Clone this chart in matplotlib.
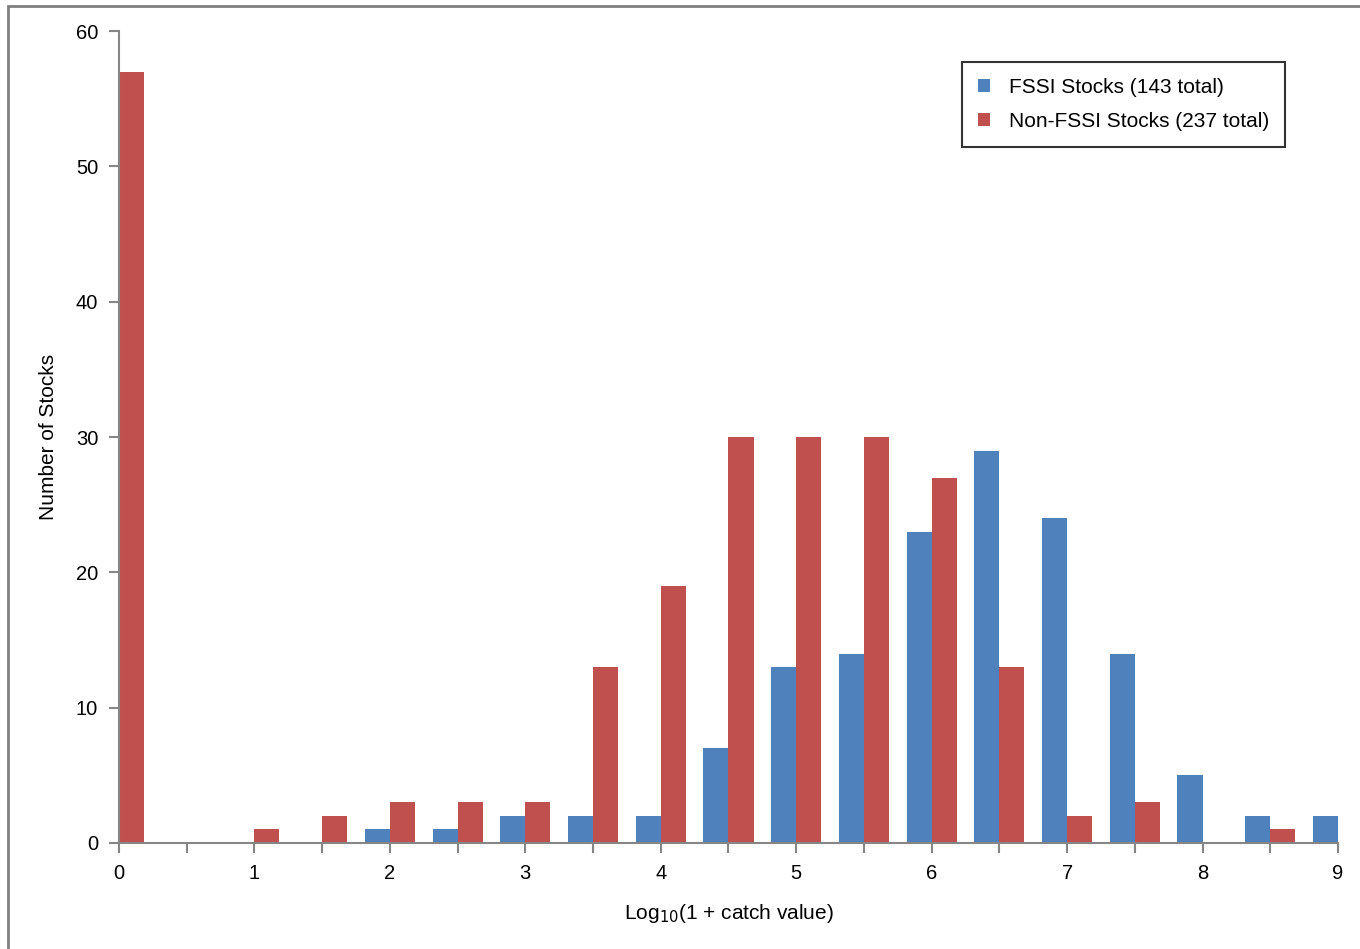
import numpy as np
import matplotlib
matplotlib.use("Agg")
import matplotlib.pyplot as plt
from matplotlib.patches import Rectangle

# bin positions (log10(1 + catch value)), every 0.5
bins = [0.0, 0.5, 1.0, 1.5, 2.0, 2.5, 3.0, 3.5, 4.0, 4.5,
        5.0, 5.5, 6.0, 6.5, 7.0, 7.5, 8.0, 8.5, 9.0]
fssi = [0, 0, 0, 0, 1, 1, 2, 2, 2, 7, 13, 14, 23, 29, 24, 14, 5, 2, 2]
non_fssi = [57, 0, 1, 2, 3, 3, 3, 13, 19, 30, 30, 30, 27, 13, 2, 3, 0, 1, 0]
xtick_labels = ["0", "1", "2", "3", "4", "5", "6", "7", "8", "9"]

plt.rcParams['font.family'] = ['Liberation Sans', 'DejaVu Sans']

def main():
    fig = plt.figure(figsize=(13.6, 9.49), dpi=100)
    ax = fig.add_axes([0.0875, 0.1117, 0.8963, 0.8556])

    x = np.array(bins)
    w = 0.185
    ax.bar(x - w / 2, fssi, width=w, color="#4F81BD", label="FSSI Stocks (143 total)")
    ax.bar(x + w / 2, non_fssi, width=w, color="#C0504D", label="Non-FSSI Stocks (237 total)")

    ax.set_xlim(0, 9)
    ax.set_ylim(0, 60)
    ax.set_yticks(range(0, 61, 10))
    ax.set_xticks(x)
    ax.set_xticklabels([xtick_labels[int(b)] if b == int(b) else "" for b in bins])

    for s in ["top", "right"]:
        ax.spines[s].set_visible(False)
    for s in ["left", "bottom"]:
        ax.spines[s].set_color("#868686")
        ax.spines[s].set_linewidth(1.5)
    ax.tick_params(axis="both", color="#868686", width=1.5, length=7, labelsize=14.5, pad=8)

    ax.set_ylabel("Number of Stocks", fontsize=15, labelpad=36)
    ax.yaxis.set_label_coords(-0.05, 0.5)
    ax.set_xlabel("Log$_{10}$(1 + catch value)", fontsize=15, labelpad=14)

    leg = ax.legend(loc="upper right", bbox_to_anchor=(0.9565, 0.962), fontsize=15,
                    frameon=True, fancybox=False, handlelength=0.6, handleheight=0.6,
                    handletextpad=0.9, borderpad=0.75, labelspacing=0.75,
                    borderaxespad=0)
    leg.get_frame().set_edgecolor("black")
    leg.get_frame().set_linewidth(1.5)

    # outer border of the original figure (top and left edges visible)
    fig.add_artist(Rectangle((0.006, -0.1), 1.2, 1.094, transform=fig.transFigure,
                             fill=False, edgecolor="#808080", linewidth=2))

    fig.savefig("out.png", dpi=100)

if __name__ == '__main__':
    main()
